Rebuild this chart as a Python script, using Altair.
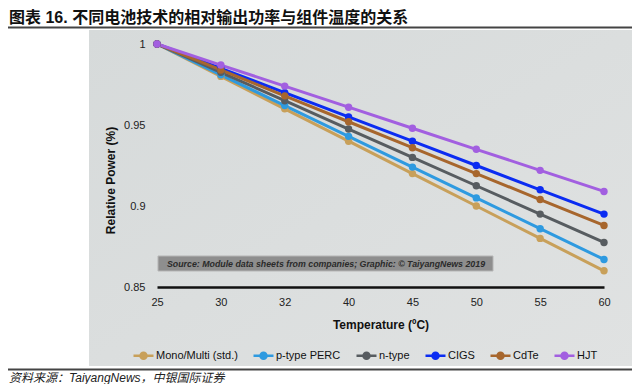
import altair as alt
import pandas as pd

temps = ["25", "30", "32", "40", "45", "50", "55", "60"]
series = ["Mono/Multi (std.)", "p-type PERC", "n-type", "CIGS", "CdTe", "HJT"]
mono = [1.0, 0.980, 0.960, 0.940, 0.920, 0.900, 0.880, 0.860]
perc = [1.0, 0.981, 0.962, 0.943, 0.924, 0.905, 0.886, 0.867]
ntype = [1.0, 0.9825, 0.965, 0.9475, 0.930, 0.9125, 0.895, 0.8775]
cigs = [1.0, 0.985, 0.970, 0.955, 0.940, 0.925, 0.910, 0.895]
cdte = [1.0, 0.984, 0.968, 0.952, 0.936, 0.920, 0.904, 0.888]
hjt = [1.0, 0.987, 0.974, 0.961, 0.948, 0.935, 0.922, 0.909]
colors = ["#C8A05A", "#2E9AE0", "#575C60", "#0B2CF2", "#A7662D", "#A25FE0"]
y_ticks = [0.85, 0.9, 0.95, 1.0]

title_text = "图表 16. 不同电池技术的相对输出功率与组件温度的关系"
footer_text = "资料来源：TaiyangNews，中银国际证券"
source_text = "Source: Module data sheets from companies; Graphic: © TaiyangNews 2019"
x_title = "Temperature (ºC)"
y_title = "Relative Power (%)"

values = [mono, perc, ntype, cigs, cdte, hjt]
rows = []
for s, vals in zip(series, values):
    for t, v in zip(temps, vals):
        rows.append({"temp": t, "power": v, "series": s})
df = pd.DataFrame(rows)

LAT = "Liberation Sans"
CJK = "Liberation Sans, Noto Sans CJK SC"

one = pd.DataFrame({"t": [""]})

panel = alt.Chart(one).mark_rect(
    color=alt.Gradient(
        gradient="linear",
        stops=[alt.GradientStop(color="#d6dada", offset=0),
               alt.GradientStop(color="#e0e2e2", offset=1)],
        x1=0, x2=1, y1=0, y2=1,
    )
).encode(x=alt.value(-68), x2=alt.value(480), y=alt.value(-14), y2=alt.value(322))

src_box = alt.Chart(one).mark_rect(color="#8e8e8e", stroke="#b5b5b5", strokeWidth=1).encode(
    x=alt.value(1), x2=alt.value(336), y=alt.value(212), y2=alt.value(227)
)
src_txt = alt.Chart(pd.DataFrame({"t": [source_text]})).mark_text(
    font=LAT, fontSize=8.8, fontStyle="italic", fontWeight="bold", color="#2a2a2a",
    align="center", baseline="middle"
).encode(x=alt.value(169), y=alt.value(220), text="t:N")

xenc = alt.X("temp:O", sort=temps, scale=alt.Scale(type="point", padding=0),
             axis=alt.Axis(title=x_title, labelAngle=0, ticks=False, grid=False, zindex=2,
                           domainColor="#111111", domainWidth=2.5,
                           labelFont=LAT, labelFontSize=11, labelColor="#222222", labelPadding=9,
                           titleFont=LAT, titleFontSize=12, titleFontWeight="bold",
                           titleColor="#111111", titlePadding=12))
yenc = alt.Y("power:Q", scale=alt.Scale(domain=[0.85, 1.0], nice=False, zero=False),
             axis=alt.Axis(values=y_ticks, format="~g", title=y_title, domain=False, zindex=2,
                           ticks=False, grid=False, labelFont=LAT, labelFontSize=11,
                           labelColor="#222222", labelPadding=12,
                           titleFont=LAT, titleFontSize=12, titleFontWeight="bold",
                           titleColor="#111111", titlePadding=6, titleY=136))
cenc = alt.Color("series:N", sort=series, scale=alt.Scale(domain=series, range=colors),
                 legend=alt.Legend(orient="none", legendX=-25, legendY=300, direction="horizontal",
                                   columns=0, title=None, padding=0, zindex=2,
                                   symbolType="M-1,0L1,0M-0.3,0A0.3,0.3 0 1,1 0.3,0A0.3,0.3 0 1,1 -0.3,0Z",
                                   symbolSize=400, symbolStrokeWidth=2.5, labelOffset=1,
                                   labelFont=LAT, labelFontSize=11, labelColor="#111111",
                                   columnPadding=10))

lines = alt.Chart(df).mark_line(strokeWidth=3).encode(x=xenc, y=yenc, color=cenc)
points = alt.Chart(df).mark_point(filled=True, size=55, opacity=1).encode(x=xenc, y=yenc, color=cenc)

title = alt.Chart(pd.DataFrame({"t": [title_text]})).mark_text(
    font=CJK, fontSize=16, fontWeight="bold", color="#111111", align="left", baseline="middle"
).encode(x=alt.value(-148), y=alt.value(-26.5), text="t:N")
title_line = alt.Chart(one).mark_rule(color="#444444", strokeWidth=2).encode(
    x=alt.value(-157), x2=alt.value(483), y=alt.value(-16.5)
)
footer = alt.Chart(pd.DataFrame({"t": [footer_text]})).mark_text(
    font=CJK, fontSize=12, fontStyle="italic", color="#222222", align="left", baseline="middle"
).encode(x=alt.value(-148), y=alt.value(333.5), text="t:N")
footer_line = alt.Chart(one).mark_rule(color="#444444", strokeWidth=2).encode(
    x=alt.value(-157), x2=alt.value(480), y=alt.value(325.5)
)

chart = alt.layer(panel, src_box, src_txt, lines, points, title, title_line, footer, footer_line).properties(
    width=447, height=243,
    autosize=alt.AutoSizeParams(type="none"),
    padding={"left": 149, "top": 36, "right": 28, "bottom": 97},
    background="white",
).configure_view(stroke=None)

chart.save("out.html", embed_options={"renderer": "svg", "actions": False})
